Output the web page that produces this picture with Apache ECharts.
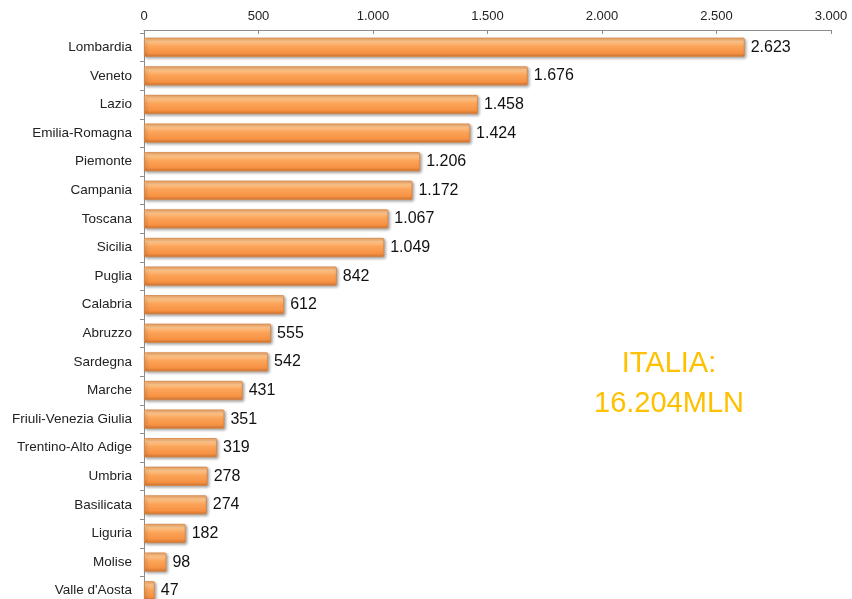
<!DOCTYPE html>
<html>
<head>
<meta charset="utf-8">
<script src="https://cdn.jsdelivr.net/npm/echarts@6/dist/echarts.min.js"></script>
<style>
  html, body { margin: 0; padding: 0; background: #fff; overflow: hidden; }
  #chart { width: 852px; height: 605px; }
</style>
</head>
<body>
<div id="chart"></div>
<script>
// regioni, dall'alto in basso
const regions = ['Lombardia', 'Veneto', 'Lazio', 'Emilia-Romagna', 'Piemonte', 'Campania', 'Toscana',
  'Sicilia', 'Puglia', 'Calabria', 'Abruzzo', 'Sardegna', 'Marche', 'Friuli-Venezia Giulia',
  'Trentino-Alto Adige', 'Umbria', 'Basilicata', 'Liguria', 'Molise', "Valle d'Aosta"];
const values = [2623, 1676, 1458, 1424, 1206, 1172, 1067, 1049, 842, 612, 555, 542, 431, 351, 319, 278, 274, 182, 98, 47];
const totalText = ['ITALIA:', '16.204MLN'];

const fmt = (v) => String(v).replace(/\B(?=(\d{3})+(?!\d))/g, '.');
const font = "'Liberation Sans', Arial, sans-serif";

const chart = echarts.init(document.getElementById('chart'));
chart.setOption({
  animation: false,
  // il grafico prosegue oltre il bordo inferiore della finestra
  grid: { left: 144, right: 21, top: 33, bottom: 0, containLabel: false },
  xAxis: {
    type: 'value',
    position: 'top',
    offset: 3,
    min: 0,
    max: 3000,
    interval: 500,
    axisLine: { show: true, lineStyle: { color: '#8c8c8c' } },
    axisTick: { show: true, inside: true, length: 4, lineStyle: { color: '#8c8c8c' } },
    splitLine: { show: false },
    axisLabel: { color: '#222', fontSize: 13, fontFamily: font, margin: 7, formatter: fmt }
  },
  yAxis: {
    type: 'category',
    inverse: true,
    data: regions,
    axisLine: { show: true, lineStyle: { color: '#8c8c8c' } },
    axisTick: { show: true, length: 4, lineStyle: { color: '#8c8c8c' } },
    axisLabel: { color: '#222', fontSize: 13.5, fontFamily: font, margin: 12 }
  },
  series: [{
    type: 'bar',
    data: values,
    barCategoryGap: '33%',
    itemStyle: {
      color: new echarts.graphic.LinearGradient(0, 0, 0, 1, [
        { offset: 0, color: '#f7a968' },
        { offset: 0.18, color: '#fdc58b' },
        { offset: 0.45, color: '#fba459' },
        { offset: 0.8, color: '#f79243' },
        { offset: 1, color: '#cf7433' }
      ]),
      borderColor: '#d78745',
      borderWidth: 0.8,
      borderRadius: 1,
      shadowColor: 'rgba(0,0,0,0.35)',
      shadowBlur: 3,
      shadowOffsetX: 1.5,
      shadowOffsetY: 1.5
    },
    label: {
      show: true,
      position: 'right',
      distance: 6,
      color: '#111',
      fontSize: 16,
      fontFamily: font,
      formatter: (p) => fmt(p.value)
    }
  }],
  graphic: [{
    type: 'text',
    x: 669,
    y: 344,
    style: {
      text: totalText.join('\n'),
      fill: '#ffc000',
      font: "29px 'Liberation Sans', Arial, sans-serif",
      textAlign: 'center',
      lineHeight: 40
    }
  }]
});
</script>
</body>
</html>
